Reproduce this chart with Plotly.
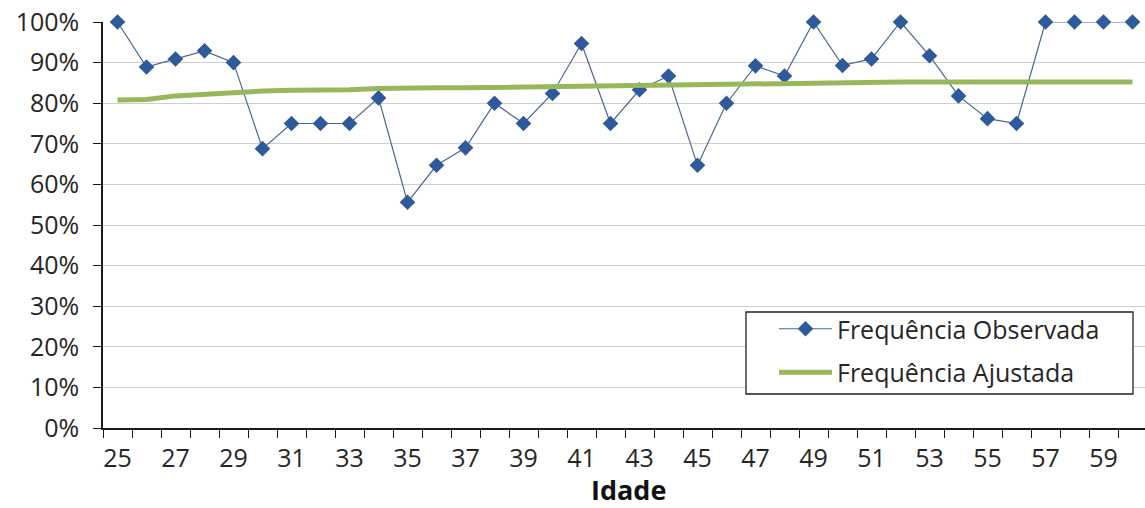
import plotly.graph_objects as go

# ---- data ----
ages = list(range(25, 61))
observed = [100.0, 88.9, 90.9, 92.9, 90.0, 68.8, 75.0, 75.0, 75.0, 81.3,
            55.6, 64.7, 69.0, 80.0, 75.0, 82.4, 94.7, 75.0, 83.3, 86.7,
            64.7, 80.0, 89.2, 86.7, 100.0, 89.3, 90.9, 100.0, 91.7, 81.8,
            76.2, 75.0, 100.0, 100.0, 100.0, 100.0]
adjusted = [80.8, 80.9, 81.8, 82.3, 82.7, 83.0, 83.2, 83.2, 83.3, 83.6,
            83.8, 83.8, 83.8, 83.9, 84.0, 84.2, 84.2, 84.3, 84.5, 84.7,
            84.8, 84.8, 84.9, 84.9, 85.0, 85.1, 85.2, 85.2, 85.2, 85.2,
            85.2, 85.2, 85.2, 85.2, 85.2, 85.2]
name_obs = "Frequência Observada"
name_adj = "Frequência Ajustada"
x_title = "Idade"
y_ticks = [i / 10 for i in range(0, 11)]
x_labels = ages[::2]

obs_frac = [v / 100 for v in observed]
adj_frac = [v / 100 for v in adjusted]

FONT = "Open Sans"
TXT = "#262626"

fig = go.Figure()
fig.add_trace(go.Scatter(
    x=ages, y=obs_frac, name=name_obs, mode="lines+markers",
    legendgroup="obs",
    line=dict(color="#4A6894", width=1.2),
    marker=dict(symbol="diamond", size=12, color="#2E5A9C"),
    cliponaxis=False,
))
fig.add_trace(go.Scatter(
    x=ages, y=adj_frac, name=name_adj, mode="lines",
    legendgroup="adj",
    line=dict(color="#96B85A", width=5),
    cliponaxis=False,
))

W, H = 1145, 508
plot_left = 103
plot_top = 22
plot_bottom = 428
step_px = 29.0
plot_w = W - plot_left
plot_h = plot_bottom - plot_top
x_lo = ages[0] - 0.5
x_hi = x_lo + plot_w / step_px


def px_x(sx):
    return (sx - plot_left) / plot_w


def px_y(sy):
    return (plot_bottom - sy) / plot_h


fig.update_layout(
    width=W, height=H,
    margin=dict(l=plot_left, r=0, t=plot_top, b=H - plot_bottom),
    paper_bgcolor="white", plot_bgcolor="white",
    font=dict(family=FONT, size=25, color=TXT),
    showlegend=True,
    legend=dict(
        x=px_x(774), y=px_y(306), xanchor="left", yanchor="top",
        bgcolor="rgba(0,0,0,0)", borderwidth=0,
        font=dict(family=FONT, size=25, color=TXT),
        itemwidth=53, traceorder="grouped", tracegroupgap=8,
    ),
    shapes=[dict(
        type="rect", xref="paper", yref="paper",
        x0=px_x(746), x1=px_x(1133), y0=px_y(394), y1=px_y(312),
        line=dict(color="#222222", width=1.3), fillcolor="white", layer="above",
    )],
    annotations=[dict(
        text="<b>" + x_title + "</b>", xref="paper", yref="paper",
        x=px_x(628), y=0, xanchor="center", yanchor="middle",
        yshift=-(489 - plot_bottom), showarrow=False,
        font=dict(family=FONT, size=27, color="#111111"),
    )],
    xaxis=dict(
        range=[x_lo, x_hi],
        tickmode="array", tickvals=x_labels, ticktext=[str(a) for a in x_labels],
        ticks="", showgrid=False, zeroline=False,
        showline=True, linecolor="#1a1a1a", linewidth=1.5,
        ticklabelstandoff=7,
        tickfont=dict(family=FONT, size=25, color=TXT),
        minor=dict(tickmode="array",
                   tickvals=[a - 0.5 for a in ages] + [ages[-1] + 0.5],
                   ticks="outside", ticklen=8, tickwidth=1.3, tickcolor="#1a1a1a"),
        automargin=False,
    ),
    yaxis=dict(
        range=[0, 1], tickmode="array", tickvals=y_ticks,
        tickformat=".0%", ticklabeloverflow="allow",
        showgrid=True, gridcolor="#CFCFCF", gridwidth=1.2,
        zeroline=False,
        showline=True, linecolor="#1a1a1a", linewidth=1.5,
        ticks="outside", ticklen=8, tickwidth=1.3, tickcolor="#1a1a1a",
        ticklabelstandoff=9,
        tickfont=dict(family=FONT, size=25, color=TXT),
        automargin=False,
    ),
)

fig.write_html("out.html", config={"displayModeBar": False},
               post_script="document.body.style.margin='0';")
